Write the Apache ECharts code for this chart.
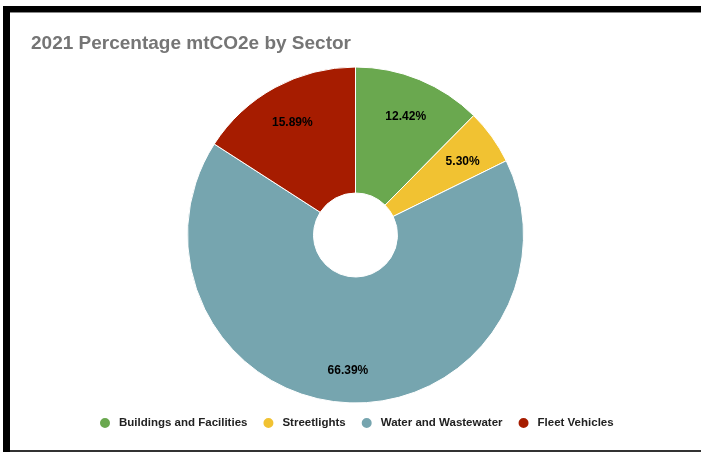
<!DOCTYPE html>
<html><head><meta charset="utf-8">
<script src="https://cdn.jsdelivr.net/npm/echarts@6/dist/echarts.min.js"></script>
<style>html,body{margin:0;padding:0;background:#fff}#c{width:701px;height:452px}</style>
</head><body><div id="c"></div>
<script>
const categories = ['Buildings and Facilities', 'Streetlights', 'Water and Wastewater', 'Fleet Vehicles'];
const values = [12.42, 5.30, 66.39, 15.89];
const colors = ['#6aa84f', '#f1c232', '#76a5af', '#a61c00'];
const titleText = '2021 Percentage mtCO2e by Sector';

const data = categories.map((n, i) => ({ name: n, value: values[i] }));
const chart = echarts.init(document.getElementById('c'));
chart.setOption({
  animation: false,
  color: colors,
  title: {
    text: titleText, left: 26, top: 29,
    textStyle: { fontFamily: 'Liberation Sans', fontWeight: 'bold', fontSize: 19, color: '#757575' }
  },
  legend: {
    bottom: 17, left: 93, icon: 'circle', itemWidth: 12, itemHeight: 12, itemGap: 14,
    data: categories,
    textStyle: { fontFamily: 'Liberation Sans', fontWeight: 'bold', fontSize: 11.5, color: '#222', padding: [0, 0, 0, 3] }
  },
  graphic: [
    { type: 'rect', shape: { x: 3, y: 6, width: 698, height: 6 }, style: { fill: '#000' } },
    { type: 'rect', shape: { x: 3, y: 12, width: 698, height: 1 }, style: { fill: '#888' } },
    { type: 'rect', shape: { x: 3, y: 6, width: 7, height: 446 }, style: { fill: '#000' } },
    { type: 'rect', shape: { x: 10, y: 450, width: 691, height: 2 }, style: { fill: '#333' } }
  ],
  series: [
    {
      type: 'pie', center: [355.5, 235], radius: [42, 168], startAngle: 90, clockwise: true,
      data: data, silent: true,
      itemStyle: { borderColor: '#fff', borderWidth: 1 },
      label: { show: false }, labelLine: { show: false }
    },
    {
      type: 'pie', center: [355.5, 235], radius: [90, 168], startAngle: 90, clockwise: true,
      data: data, silent: true,
      itemStyle: { color: 'transparent', borderWidth: 0 },
      label: {
        show: true, position: 'inside', offset: [0, 4],
        formatter: p => p.value.toFixed(2) + '%',
        fontFamily: 'Liberation Sans', fontWeight: 'bold', fontSize: 12, color: '#000'
      },
      labelLine: { show: false }
    }
  ]
});
</script></body></html>
